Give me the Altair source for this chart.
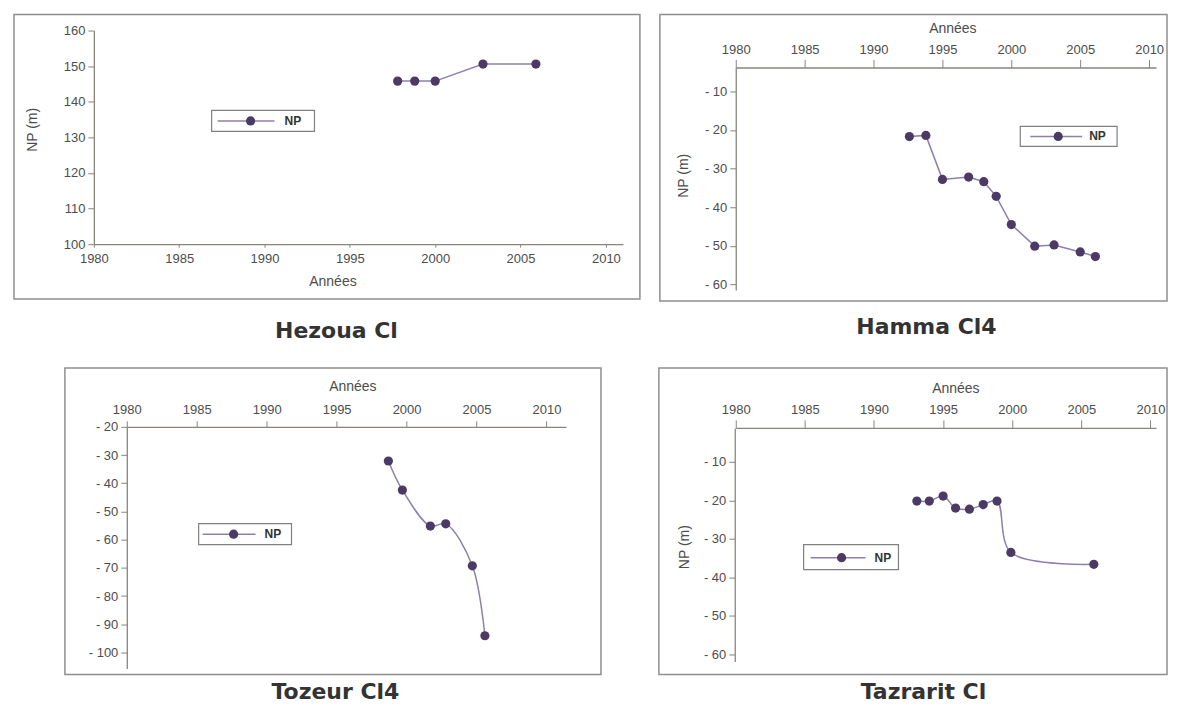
import altair as alt
import pandas as pd

# ---------------- data ----------------
PANEL_NAMES = ["Hezoua Cl", "Hamma Cl4", "Tozeur Cl4", "Tazrarit Cl"]
SERIES = "NP"
X_TITLE = "Années"
Y_TITLE = "NP (m)"
YEAR_TICKS = [1980, 1985, 1990, 1995, 2000, 2005, 2010]

hez_years = [1997.8, 1998.8, 2000.0, 2002.8, 2005.9]
hez_np = [145.8, 145.8, 145.8, 150.6, 150.6]
hez_ticks = [100, 110, 120, 130, 140, 150, 160]

ham_years = [1992.6, 1993.8, 1995.0, 1996.9, 1998.0, 1998.9, 2000.0, 2001.7, 2003.1, 2005.0, 2006.1]
ham_np = [-21.7, -21.4, -32.8, -32.2, -33.4, -37.2, -44.5, -50.1, -49.8, -51.6, -52.8]
ham_ticks = [-10, -20, -30, -40, -50, -60]

toz_years = [1998.7, 1999.7, 2001.7, 2002.8, 2004.7, 2005.6]
toz_np = [-32.1, -42.4, -55.2, -54.4, -69.3, -94.1]
toz_ticks = [-20, -30, -40, -50, -60, -70, -80, -90, -100]

taz_years = [1993.1, 1994.0, 1995.0, 1995.9, 1996.9, 1997.9, 1998.9, 1999.9, 2005.9]
taz_np = [-20.2, -20.2, -18.9, -22.0, -22.3, -21.1, -20.2, -33.5, -36.6]
taz_ticks = [-10, -20, -30, -40, -50, -60]

# ---------------- styling ----------------
LINE_COLOR = "#8e7fae"
POINT_COLOR = "#4a3a64"
AXIS_COLOR = "#8a857b"
LABEL_COLOR = "#4d4d4d"
FRAME_COLOR = "#8f8f8f"
FONT = "Liberation Sans"

NEG_LABEL = "datum.value < 0 ? '- ' + abs(datum.value) : datum.label"


def panel(name, years, values, yticks, g):
    df = pd.DataFrame({"annee": years, "np": values})
    one = pd.DataFrame({"k": [0]})

    x_axis = alt.Axis(
        orient=g["xorient"], offset=g["xoff"], values=YEAR_TICKS, format="d",
        title=X_TITLE, titleX=g["xtx"], titleY=g["xty"], titleBaseline="middle",
        titleAlign="center", titleFont=FONT, titleFontSize=14, titleFontWeight="normal",
        titleColor=LABEL_COLOR, grid=False, labelFlush=False, labelOverlap=False,
        tickSize=g["xtick"], labelPadding=g["xpad"], domainColor=AXIS_COLOR,
        domainWidth=1.3, tickColor=AXIS_COLOR, labelColor=LABEL_COLOR,
        labelFont=FONT, labelFontSize=13,
    )
    y_kwargs = dict(
        orient="left", offset=g["yoff"], values=yticks, grid=False,
        labelExpr=NEG_LABEL, labelFlush=False, labelOverlap=False, tickSize=6,
        labelPadding=3, domainColor=AXIS_COLOR, domainWidth=1.3, tickColor=AXIS_COLOR,
        labelColor=LABEL_COLOR, labelFont=FONT, labelFontSize=13,
    )
    if g.get("ytitle", True):
        y_kwargs.update(title=Y_TITLE, titleX=g["ytx"], titleY=g["yty"],
                        titleBaseline="middle", titleAlign="center", titleAngle=270,
                        titleFont=FONT, titleFontSize=14, titleFontWeight="normal",
                        titleColor=LABEL_COLOR)
    else:
        y_kwargs.update(title="")
    y_axis = alt.Axis(**y_kwargs)

    xenc = alt.X("annee:Q", scale=alt.Scale(domain=g["xdom"], range=g["xrng"], nice=False, zero=False), axis=x_axis)
    yenc = alt.Y("np:Q", scale=alt.Scale(domain=g["ydom"], range=g["yrng"], nice=False, zero=False), axis=y_axis)

    base = alt.Chart(df)
    line = base.mark_line(color=LINE_COLOR, strokeWidth=1.5, interpolate=g["interp"]).encode(x=xenc, y=yenc)
    pts = base.mark_point(filled=True, size=85, color=POINT_COLOR, opacity=1).encode(x=xenc, y=yenc)

    o = alt.Chart(one)
    fx0, fy0, fx1, fy1 = g["frame"]
    frame = o.mark_rect(fillOpacity=0, stroke=FRAME_COLOR, strokeWidth=1.5).encode(
        x=alt.value(fx0), x2=alt.value(fx1), y=alt.value(fy0), y2=alt.value(fy1))

    lb = g["legend"]  # box x0, y0, x1, y1, line x0, x1, cy, circle x, text x
    lbox = o.mark_rect(fill="white", stroke="#808080", strokeWidth=1.2).encode(
        x=alt.value(lb[0]), x2=alt.value(lb[2]), y=alt.value(lb[1]), y2=alt.value(lb[3]))
    lline = o.mark_rule(color=LINE_COLOR, strokeWidth=1.5).encode(
        x=alt.value(lb[4]), x2=alt.value(lb[5]), y=alt.value(lb[6]))
    lpt = o.mark_point(filled=True, size=85, color=POINT_COLOR, opacity=1).encode(
        x=alt.value(lb[7]), y=alt.value(lb[6]))
    ltxt = o.mark_text(align="left", baseline="middle", font=FONT, fontSize=12,
                       fontWeight="bold", color="#333333").encode(
        x=alt.value(lb[8]), y=alt.value(lb[6]), text=alt.value(SERIES))

    ttl = o.mark_text(align="center", baseline="middle", font="DejaVu Sans", fontSize=22,
                      fontWeight="bold", color="#333333").encode(
        x=alt.value(g["title"][0]), y=alt.value(g["title"][1]), text=alt.value(name))

    return alt.layer(frame, line, pts, lbox, lline, lpt, ltxt, ttl).properties(
        width=g["w"], height=g["h"])


G1 = dict(w=627, h=287, xorient="bottom", xoff=-57, xdom=[1980, 2011], xrng=[80, 610],
          ydom=[100, 160], yrng=[230, 16], yoff=-80, xtick=3, xpad=5,
          xtx=319, xty=37, ytx=-61, yty=115, interp="linear",
          frame=(0, 0, 627, 285), legend=(198, 96, 301, 117, 204, 261, 106.5, 237, 271),
          title=(323, 317))
G2 = dict(w=510, h=287, xorient="top", xoff=-53, xdom=[1980, 2010.5], xrng=[77, 498],
          ydom=[-61.5, -3.8], yrng=[276, 53], yoff=-77, xtick=8, xpad=3,
          xtx=294, xty=-39, ytx=-52, yty=161, interp="linear",
          frame=(1, 0, 509, 287), legend=(362, 112, 459, 132, 372, 424, 122, 400, 431),
          title=(268, 313))
G3 = dict(w=588, h=307, xorient="top", xoff=-59, xdom=[1980, 2011.4], xrng=[113, 553],
          ydom=[-105.7, -20], yrng=[301, 59], yoff=-113, xtick=6, xpad=4,
          xtx=339, xty=-40, ytitle=False, interp="catmull-rom",
          frame=(51, 0, 588, 307), legend=(185, 156, 278, 177, 189, 242, 166.5, 220, 251),
          title=(322, 325))
G4 = dict(w=510, h=307, xorient="top", xoff=-60, xdom=[1980, 2010.4], xrng=[77, 498],
          ydom=[-61.8, -1.2], yrng=[294, 60], yoff=-76, xtick=8, xpad=3,
          xtx=297, xty=-39, ytx=-50, yty=179, interp="catmull-rom",
          frame=(0, 0, 509, 307), legend=(145, 177, 240, 202, 152, 207, 190, 183, 216),
          title=(265, 325))

p1 = panel(PANEL_NAMES[0], hez_years, hez_np, hez_ticks, G1)
p2 = panel(PANEL_NAMES[1], ham_years, ham_np, ham_ticks, G2)
p3 = panel(PANEL_NAMES[2], toz_years, toz_np, toz_ticks, G3)
p4 = panel(PANEL_NAMES[3], taz_years, taz_np, taz_ticks, G4)

chart = alt.concat(p1, p2, p3, p4, columns=2, spacing={"row": 67, "column": 19},
                   bounds="flush").properties(
    padding={"left": 4, "top": 4, "right": 0, "bottom": 0},
    background="white",
).configure_view(stroke="transparent")

chart.save("out.html", embed_options={"renderer": "svg", "actions": False})
